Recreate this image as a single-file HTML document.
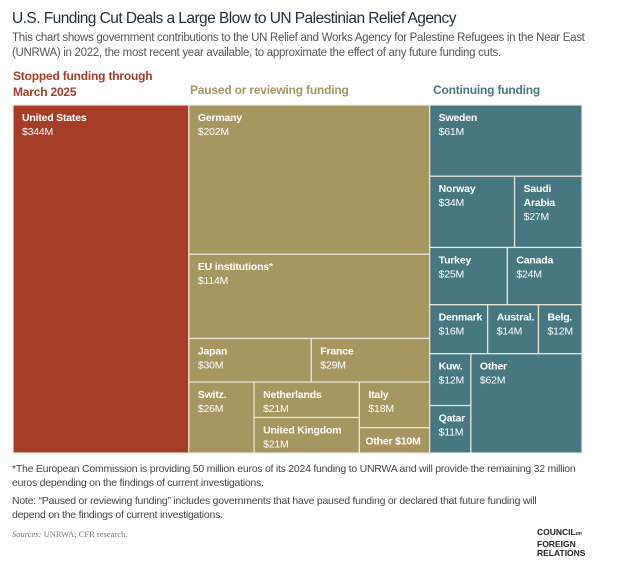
<!DOCTYPE html>
<html><head><meta charset="utf-8"><style>
body{margin:0;width:622px;height:563px;background:#fff;font-family:"Liberation Sans",sans-serif;overflow:hidden;position:relative}
.t{position:absolute;white-space:nowrap}
</style></head><body>
<div class="t" style="left:12px;top:10px;font-size:15.5px;color:#1f2d3a;letter-spacing:-0.55px">U.S. Funding Cut Deals a Large Blow to UN Palestinian Relief Agency</div>
<div class="t" style="left:12px;top:31px;font-size:11.5px;line-height:15px;color:#555;letter-spacing:-0.3px">This chart shows government contributions to the UN Relief and Works Agency for Palestine Refugees in the Near East<br>(UNRWA) in 2022, the most recent year available, to approximate the effect of any future funding cuts.</div>
<div class="t" style="left:13px;top:68px;font-size:12px;line-height:16px;font-weight:bold;color:#a63d27;letter-spacing:-0.2px">Stopped funding through<br>March 2025</div>
<div class="t" style="left:190px;top:83px;font-size:12px;font-weight:bold;color:#a69660;letter-spacing:-0.2px">Paused or reviewing funding</div>
<div class="t" style="left:433px;top:83px;font-size:12px;font-weight:bold;color:#477882;letter-spacing:-0.2px">Continuing funding</div>
<svg id="tm" width="622" height="563" style="position:absolute;left:0;top:0"></svg>
<div class="t" style="left:12px;top:462px;font-size:10.5px;line-height:14px;color:#444;letter-spacing:-0.25px">*The European Commission is providing 50 million euros of its 2024 funding to UNRWA and will provide the remaining 32 million<br>euros depending on the findings of current investigations.</div>
<div class="t" style="left:12px;top:494px;font-size:10.5px;line-height:14px;color:#444;letter-spacing:-0.25px">Note: “Paused or reviewing funding” includes governments that have paused funding or declared that future funding will<br>depend on the findings of current investigations.</div>
<div class="t" style="left:12px;top:529px;font-size:8.5px;color:#777;font-family:'Liberation Serif',serif"><i>Sources:</i> UNRWA; CFR research.</div>
<div class="t" style="left:537px;top:528px;font-size:8.5px;line-height:9.5px;font-weight:bold;color:#222">COUNCIL<span style="font-size:5px;font-style:italic">on</span><br>FOREIGN<br>RELATIONS</div>
<script>
const names=["United States","Germany","EU institutions*","Japan","France","Switz.","Netherlands","United Kingdom","Italy","Other","Sweden","Norway","Saudi Arabia","Turkey","Canada","Denmark","Austral.","Belg.","Kuw.","Qatar","Other"];
const values=[344,202,114,30,29,26,21,21,18,10,61,34,27,25,24,16,14,12,12,11,62];
const groupOf=[0,1,1,1,1,1,1,1,1,1,2,2,2,2,2,2,2,2,2,2,2];
const groupColors=["#a63d27","#a69660","#477882"];
// hierarchy: h = split horizontally (side by side), v = stacked
const tree={d:"h",c:[0,
 {d:"v",c:[1,2,{d:"h",c:[3,4]},{d:"h",c:[5,{d:"v",c:[6,7]},{d:"v",c:[8,9]}]}]},
 {d:"v",c:[10,{d:"h",c:[11,12]},{d:"h",c:[13,14]},{d:"h",c:[15,16,17]},{d:"h",c:[{d:"v",c:[18,19]},20]}]}
]};
const X0=13,Y0=105,W=569,H=348;
const svg=document.getElementById('tm');
const NS="http://www.w3.org/2000/svg";
function sum(n){return typeof n==="number"?values[n]:n.c.reduce((a,b)=>a+sum(b),0);}
function draw(n,x,y,w,h){
 if(typeof n==="number"){leaf(n,x,y,w,h);return;}
 const tot=sum(n);let off=0;
 n.c.forEach(ch=>{const f=sum(ch)/tot;
  if(n.d==="h"){draw(ch,x+off,y,w*f,h);off+=w*f;}else{draw(ch,x,y+off,w,h*f);off+=h*f;}});
}
function leaf(i,x,y,w,h){
 const g=document.createElementNS(NS,'g');
 
 
 const r=document.createElementNS(NS,'rect');
 r.setAttribute('x',x);r.setAttribute('y',y);r.setAttribute('width',w);r.setAttribute('height',h);
 r.setAttribute('fill',groupColors[groupOf[i]]);r.setAttribute('stroke','#ece8dc');r.setAttribute('stroke-width','1.2');
 g.appendChild(r);
 let lines;
 if(i===9) lines=[[names[i]+" $"+values[i]+"M",true]];
 else if(names[i]==="Saudi Arabia") lines=[["Saudi",true],["Arabia",true],["$"+values[i]+"M",false]];
 else lines=[[names[i],true],["$"+values[i]+"M",false]];
 let ty=y+(i===9?17:16);
 lines.forEach(l=>{const t=document.createElementNS(NS,'text');
  t.setAttribute('x',x+(i===9?6:9));t.setAttribute('y',ty);t.setAttribute('fill','#fff');
  t.setAttribute('font-size','10.5');t.setAttribute('letter-spacing','-0.2');t.setAttribute('font-family','Liberation Sans, sans-serif');
  if(l[1])t.setAttribute('font-weight','bold');
  t.textContent=l[0];g.appendChild(t);ty+=14;});
 svg.appendChild(g);
}
draw(tree,X0,Y0,W,H);
</script>
</body></html>
